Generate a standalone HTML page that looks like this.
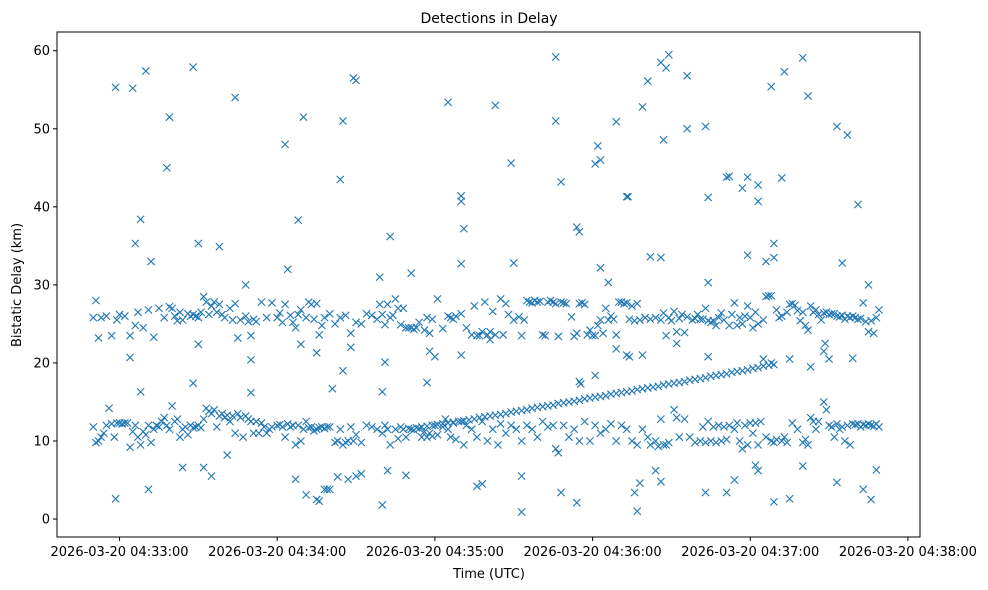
<!DOCTYPE html>
<html><head><meta charset="utf-8"><style>
html,body{margin:0;padding:0;background:#fff;}
svg{display:block;font-family:"DejaVu Sans","Liberation Sans",sans-serif;}
</style></head><body>
<svg id="chart" width="988" height="590" viewBox="0 0 988 590">
<rect x="0" y="0" width="988" height="590" fill="#fff"/>
<text x="489" y="23" text-anchor="middle" font-size="14">Detections in Delay</text>
<text x="489" y="578" text-anchor="middle" font-size="13">Time (UTC)</text>
<text transform="translate(21,285) rotate(-90)" text-anchor="middle" font-size="13">Bistatic Delay (km)</text>
<g id="marks"></g>
<g id="axes"></g>
</svg>
<script>
// x in seconds after 04:32:00, y in km
const xTickSecs=[60,120,180,240,300,360];
const xTickLabels=["2026-03-20 04:33:00","2026-03-20 04:34:00","2026-03-20 04:35:00","2026-03-20 04:36:00","2026-03-20 04:37:00","2026-03-20 04:38:00"];
const yTicks=[0,10,20,30,40,50,60];
const outlierT=[58.5,65,70,79,78,88,104,123,130,128,124,145,144,149,150,185,203,226,226,228,209,241,242,243,249,259,261,266,269,268,267,276,276,283,284,291,292,297,299,303,303,308,313,320,322,333,337,341,66,68,72,90,98,108,163,171,190,190,191,190,210,234,235,243,246,253,253.5,262,266,284,299,306,309,309,312,335,345,159,
58.5,71,84,92,95,101,131,135,136,138,139,140,143,147,150,152,160,162,169,196,198,213,213,228,234,256,257,258,264,266,283,291,294,302,303,309,315,320,333,343,346,348,127,
64,68,88,110,110,141,145,160,161,177,178,180,235,235.5,241,249,253,254,259,284,305,308,315,323,328,328.5,330,339,129,90,135,148,190,201,272];
const outlierD=[55.3,55.2,57.4,51.5,45,57.9,54,48,51.5,38.3,32,51,43.5,56.5,56.2,53.4,53,59.2,51,43.2,45.6,45.5,47.8,46,50.9,52.8,56.1,58.5,59.5,57.8,48.6,56.8,50,50.3,41.2,43.8,43.9,42.4,43.8,42.8,40.7,55.4,57.3,59.1,54.2,50.3,49.2,40.3,35.3,38.4,33,35.3,34.9,30,36.2,31.5,41.4,40.7,37.2,32.7,32.8,37.4,36.8,32.2,30.3,41.3,41.3,33.6,33.5,30.3,33.8,33,35.3,33.5,43.7,32.8,30,31,
2.6,3.8,6.6,6.6,5.5,8.2,3.1,2.5,2.3,3.8,3.8,3.8,5.4,5.1,5.5,5.8,1.8,6.2,5.6,4.2,4.5,0.9,5.5,3.4,2.1,3.4,1,4.6,6.2,4.8,3.4,3.4,5,6.9,6.2,2.2,2.6,6.8,4.7,3.8,2.5,6.3,5.1,
20.7,16.3,17.4,16.2,20.4,16.7,19,16.3,20.1,17.5,21.5,20.8,17.6,17.3,18.4,21.8,21,20.8,21,20.8,20.5,20,20.5,19.5,21.5,22.5,20.5,20.6,22.4,22.4,21.3,22,21,23,22.5];
const band26T=[50,51,52,53,55,57,59,60,62,64,66,67,69,71,73,75,77,79,80,81,82,83,84,86,87,88,89,90,91,92,93,94,95,96,97,98,99,100,102,103,104,105,106,108,109,110,111,112,114,116,118,120,121,122,123,125,126,127,128,129,131,132,133,134,135,136,137,138,140,142,144,146,148,150,152,154,156,158,159,160,161,162,163,164,165,166,167,168,169,170,171,172,173,174,176,177,178,179,181,183,185,186,187,188,190,192,194,195,196,197,198,199,200,201,202,203,205,206,207,208,210,212,213,214,215,216,217,218,219,220,221,222,223,224,225,226,227,228,229,230,232,233,234,235,236,237,238,239,240,241,242,243,244,245,246,247,248,249,250,251,252,253,254,255,256,257,258,260,262,264,266,267,268,269,270,271,272,273,274,275,276,278,279,280,281,282,283,284,285,286,287,288,289,290,292,293,294,295,296,297,298,299,300,301,302,303,305,306,307,308,310,311,312,314,315,316,317,318,319,320,321,322,323,324,325,326,327,328,329,330,331,332,333,334,335,336,337,338,339,340,341,342,343,344,345,346,347,348,349];
const band26D=[25.8,28,23.2,25.8,26,23.5,25.5,26.2,26,23.5,24.8,26.5,24.5,26.8,23.3,27,25.8,27.2,27,26,25.4,26.5,25.5,26.3,26,26.2,26,25.8,26.5,28.5,27.8,26.2,27.3,27.8,26.5,27.5,26.2,25.8,27,25.5,27.6,23.2,25.5,26,25.3,23.5,25.6,25.3,27.8,25.8,27.7,25.8,26.4,25.2,27.5,26.1,25.2,24.5,26.2,26.8,25.8,27.8,27.5,25.6,27.6,23.6,24.8,25.8,26.3,25,25.8,26.1,23.8,25.2,25,26.3,26.1,25.6,27.5,26.2,24.9,27.5,25.8,26.1,28.2,27,24.9,27,24.5,24.5,24.5,24.3,24.5,25.2,24.2,25.8,23.8,25.6,28.2,24.4,26,25.8,25.6,26,26.3,24.5,23.6,27.3,23.5,23.5,24,27.8,23.6,24,26.6,23.6,28.2,23.6,27.6,26.2,25.5,25.9,23.5,25.5,28,27.8,27.7,28,27.8,27.9,23.6,23.5,27.8,28,27.8,27.6,23.4,27.8,27.7,27.6,25.9,23.4,23.8,27.6,27.7,27.5,23.6,24.2,23.5,23.5,24.8,25.5,23.8,27,25.5,26,25.6,23.6,27.8,27.8,27.6,27.7,25.6,27.3,25.4,27.6,25.5,25.8,25.6,25.8,25.5,26.4,23.5,25.8,25.4,26.6,24,25.7,26.2,23.9,25.9,25.5,25.7,26.2,25.6,25.6,27,25.4,25.2,25.4,24.8,25.8,26.4,25.5,24.8,26.2,27.7,24.8,25.8,25,26,27.3,25.8,24.5,26.5,25,25.5,28.5,28.6,28.6,26.8,25.8,26,26.5,27.5,27.6,27.4,26.7,25.4,26.5,24.8,24.2,27.3,26.5,26.8,26.2,25.5,26.4,26.5,26.2,26.3,26.3,26,25.9,26.1,25.6,26,25.8,26,25.8,25.6,25.7,27.7,25.3,24,25.4,23.8,25.8,26.8];
const lowT=[50,51,52,53,54,55,56,57,58,59,60,61,62,63,64,65,66,67,68,69,70,71,72,73,74,75,76,77,78,79,80,81,82,83,84,85,86,87,88,89,90,91,92,93,94,95,96,97,98,99,100,101,102,103,104,105,106,107,108,109,110,111,112,113,114,115,116,117,118,120,121,122,123,124,125,126,127,128,129,130,131,132,133,134,135,136,137,138,139,140,142,143,144,145,146,147,148,149,150,152,154,156,158,160,161,162,163,165,166,167,168,169,170,171,172,173,174,175,176,177,178,179,180,181,183,184,185,186,187,188,190,191,192,194,196,198,200,202,204,205,207,209,211,213,215,217,219,221,223,225,226,227,229,231,233,235,237,239,241,243,245,247,249,251,253,255,257,259,261,262,264,265,266,267,268,269,271,272,273,275,277,279,281,282,283,284,285,286,287,288,289,290,291,292,294,295,296,297,298,299,300,301,302,303,304,306,308,309,310,312,313,314,316,318,320,321,322,323,324,325,326,328,329,330,331,332,333,334,335,336,337,338,339,340,341,342,343,344,345,346,347,348,349];
const lowD=[11.8,9.8,10,10.5,11,12,14.2,12.2,10.5,12.3,12.3,12.2,12.3,12.3,9.2,11.2,12,10.5,9.5,11.2,10.8,12,9.8,11.5,12,11.8,12.5,13,12,11.5,14.5,12.5,12.8,10.5,11.5,11.8,10.8,12,11.7,11.8,12,11.7,12.8,14.2,13.8,13.5,14,11.8,13.2,13.5,13,13.3,12.5,13.2,11,13.5,13,10.5,13.2,12.8,12.5,11,12.5,11,12.3,11.8,11,11.5,11.8,12,12.1,11.8,10.5,12.2,11.8,12,9.5,12,10,11.5,12.5,11.7,11.8,11.3,11.5,11.7,11.8,11.6,11.8,11.8,9.8,10,11.5,9.5,9.8,10,11.8,10,10.8,9.8,12,11.8,11.5,11,12,11.5,9.5,11.5,10.3,11.8,11.5,10.5,11.6,11.5,11.4,11.7,11.6,10.5,11.2,10.5,11,10.6,12,10.8,11.8,12.8,11.5,10.5,12.3,10.2,12.5,9.5,12,11.5,10.5,12.5,10,11.5,9.5,12.2,11,12,11.5,10,12,11.5,10.5,12.5,11.8,12,9,8.5,12,10.5,11.5,10,12.5,10,12,11,11.5,12.2,10,12,11.5,10,9.5,11.5,10.5,9.5,10,9.3,12.8,9.5,9.5,9.8,14,13,10.5,12.8,10.5,9.8,10,11.8,9.8,12.5,10,11.8,9.8,12,10,11.8,10.2,12,11.5,12.3,10,9,12,9.5,12.3,11,12.3,9.5,12.5,10.5,10,9.8,10.2,10,10.5,9.8,12.3,11.5,9.8,10.2,9.5,13,12.5,11.5,12.5,15,14,12,11.8,10.5,12.2,11.5,11.8,10,12,9.5,12.2,12.1,12.2,11.8,12.1,12,12.2,12,11.9,12.2,11.8];
const riseT=[175,177,179,181,183,185,187,189,191,193,195,197,199,201,203,205,207,209,211,213,215,217,219,221,223,225,227,229,231,233,235,237,239,241,243,245,247,249,251,253,255,257,259,261,263,265,267,269,271,273,275,277,279,281,283,285,287,289,291,293,295,297,299,301,303,305,307,309];
const riseD=[11.8,11.9,12,12.1,12.2,12.3,12.4,12.5,12.6,12.7,12.8,13,13.1,13.2,13.3,13.4,13.5,13.7,13.8,13.9,14,14.2,14.3,14.4,14.5,14.6,14.8,14.9,15,15.1,15.2,15.4,15.5,15.6,15.7,15.8,16,16.1,16.2,16.3,16.4,16.6,16.7,16.8,16.9,17,17.2,17.3,17.4,17.5,17.6,17.8,17.9,18,18.1,18.3,18.4,18.5,18.6,18.8,18.9,19,19.1,19.3,19.4,19.6,19.7,19.8];

const L=57,R=920,T=32,B=537;
const xMin=36.2,xMax=364.6,yMin=-2.3,yMax=62.4;
function xs(t){return L+(t-xMin)/(xMax-xMin)*(R-L);}
function ys(v){return B-(v-yMin)/(yMax-yMin)*(B-T);}
const NS="http://www.w3.org/2000/svg";
const marks=document.getElementById('marks');
const axes=document.getElementById('axes');
function drawX(t,d){
  const cx=xs(t),cy=ys(d),h=3.6;
  const p=document.createElementNS(NS,'path');
  p.setAttribute('d',`M${cx-h},${cy-h}L${cx+h},${cy+h}M${cx-h},${cy+h}L${cx+h},${cy-h}`);
  p.setAttribute('stroke','#1f77b4');p.setAttribute('stroke-width','1.1');p.setAttribute('fill','none');
  
  
  marks.appendChild(p);
}
[[band26T,band26D],[lowT,lowD],[riseT,riseD],[outlierT,outlierD]].forEach(([a,b])=>{for(let i=0;i<Math.min(a.length,b.length);i++)drawX(a[i],b[i]);});

const frame=document.createElementNS(NS,'rect');
frame.setAttribute('x',L);frame.setAttribute('y',T);frame.setAttribute('width',R-L);frame.setAttribute('height',B-T);
frame.setAttribute('fill','none');frame.setAttribute('stroke','#000');frame.setAttribute('stroke-width','1');


axes.appendChild(frame);
xTickSecs.forEach((s,i)=>{
  const x=xs(s);
  const l=document.createElementNS(NS,'line');
  l.setAttribute('x1',x);l.setAttribute('x2',x);l.setAttribute('y1',B);l.setAttribute('y2',B+4);l.setAttribute('stroke','#000');
  
  
  axes.appendChild(l);
  const tx=document.createElementNS(NS,'text');
  tx.setAttribute('x',x);tx.setAttribute('y',B+19);tx.setAttribute('text-anchor','middle');tx.setAttribute('font-size','13');
  tx.textContent=xTickLabels[i];
  
  
  axes.appendChild(tx);
});
yTicks.forEach(v=>{
  const y=ys(v);
  const l=document.createElementNS(NS,'line');
  l.setAttribute('x1',L-4);l.setAttribute('x2',L);l.setAttribute('y1',y);l.setAttribute('y2',y);l.setAttribute('stroke','#000');
  
  
  axes.appendChild(l);
  const tx=document.createElementNS(NS,'text');
  tx.setAttribute('x',L-7);tx.setAttribute('y',y+4.5);tx.setAttribute('text-anchor','end');tx.setAttribute('font-size','13');
  tx.textContent=String(v);
  
  
  axes.appendChild(tx);
});
</script>
</body></html>
